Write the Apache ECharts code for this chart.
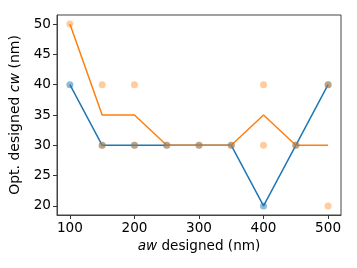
<!DOCTYPE html>
<html><head><meta charset="utf-8">
<script src="https://cdn.jsdelivr.net/npm/echarts@6/dist/echarts.min.js"></script>
<style>html,body{margin:0;padding:0;background:#fff}#c{width:357px;height:268px}</style>
</head><body><div id="c"></div>
<script>
var xValues = [100,150,200,250,300,350,400,450,500];
var blueLine = [40,30,30,30,30,30,20,30,40];
var orangeLine = [50,35,35,30,30,30,35,30,30];
var blueScatterX = [100,150,200,250,300,350,400,450,500];
var blueScatterY = [40,30,30,30,30,30,20,30,40];
var orangeScatterX = [100,150,150,200,200,250,300,350,400,400,450,500,500];
var orangeScatterY = [50,40,30,40,30,30,30,30,40,30,30,40,20];
var xTicks = [100,200,300,400,500];
var yTicks = [20,25,30,35,40,45,50];

function pairs(xs, ys){ return xs.map(function(x,i){return [x, ys[i]];}); }
var BLUE='#1f77b4', ORANGE='#ff7f0e';
var font='DejaVu Sans';
var chart = echarts.init(document.getElementById('c'), null, {renderer:'canvas'});
chart.setOption({
  animation:false,
  grid:{left:57, top:15, right:16, bottom:53, show:true, borderColor:'#444', borderWidth:1, backgroundColor:'transparent'},
  xAxis:{type:'value', min:80, max:520,
    axisLine:{show:true, onZero:false, lineStyle:{color:'#444', width:1}},
    axisTick:{show:true, length:4, customValues:xTicks, lineStyle:{color:'#333'}},
    axisLabel:{customValues:xTicks, color:'#000', fontFamily:font, fontSize:13.6, margin:6},
    splitLine:{show:false},
    name:'{i|aw} designed (nm)', nameLocation:'middle', nameGap:21,
    nameTextStyle:{color:'#000', fontFamily:font, fontSize:13.6, rich:{i:{fontStyle:'italic', fontFamily:font, fontSize:13.6, color:'#000'}}}
  },
  yAxis:{type:'value', min:18.5, max:51.5,
    axisLine:{show:true, onZero:false, lineStyle:{color:'#444', width:1}},
    axisTick:{show:true, length:4, customValues:yTicks, lineStyle:{color:'#333'}},
    axisLabel:{customValues:yTicks, color:'#000', fontFamily:font, fontSize:13.6, margin:6},
    splitLine:{show:false},
    name:'Opt. designed {i|cw} (nm)', nameLocation:'middle', nameGap:21,
    nameTextStyle:{color:'#000', fontFamily:font, fontSize:14, rich:{i:{fontStyle:'italic', fontFamily:font, fontSize:14, color:'#000'}}}
  },
  series:[
    {type:'line', data:pairs(xValues, blueLine), showSymbol:false, lineStyle:{color:BLUE, width:1.5}, itemStyle:{color:BLUE}, z:2},
    {type:'line', data:pairs(xValues, orangeLine), showSymbol:false, lineStyle:{color:ORANGE, width:1.5}, itemStyle:{color:ORANGE}, z:2},
    {type:'scatter', data:pairs(blueScatterX, blueScatterY), symbolSize:7, itemStyle:{color:BLUE, opacity:0.5}, z:3},
    {type:'scatter', data:pairs(orangeScatterX, orangeScatterY), symbolSize:7, itemStyle:{color:ORANGE, opacity:0.4}, z:3}
  ]
});
</script></body></html>
